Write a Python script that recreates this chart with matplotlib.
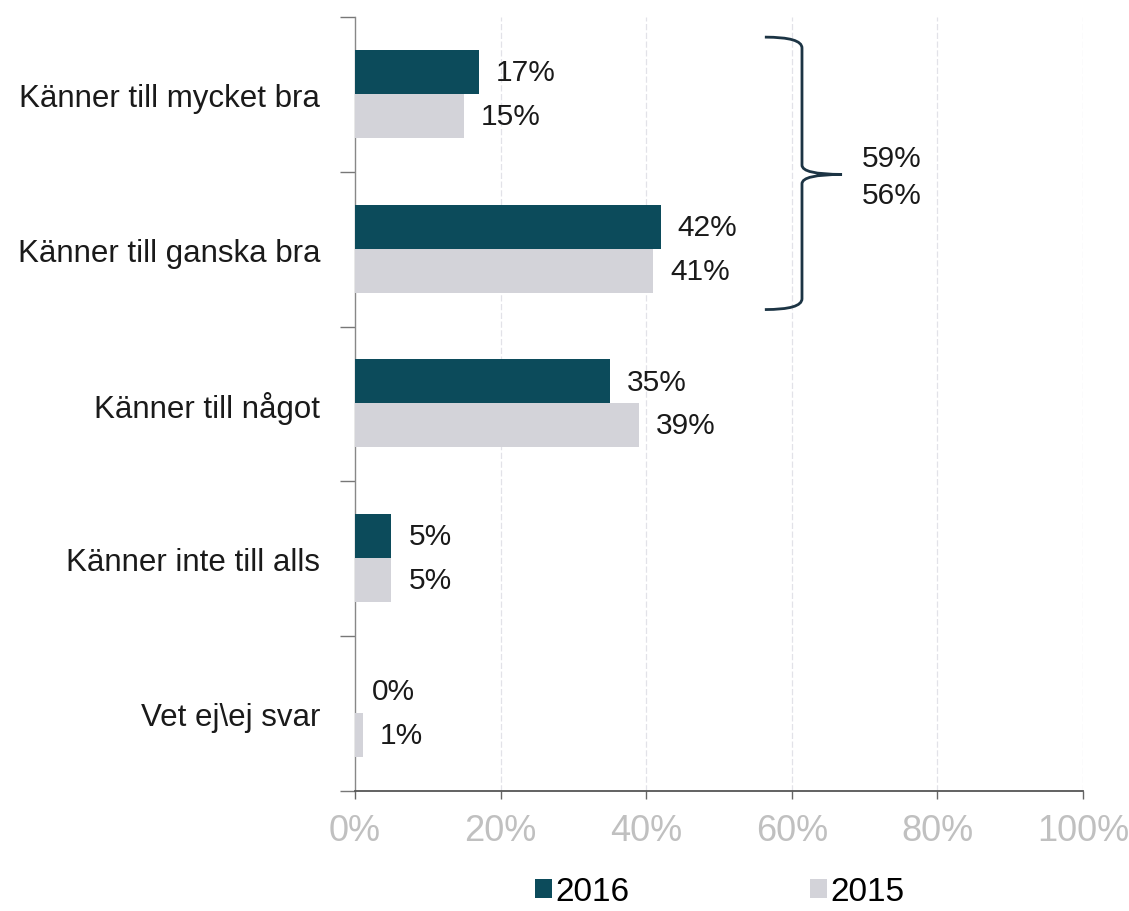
import matplotlib
matplotlib.use("Agg")
import matplotlib.pyplot as plt
from matplotlib.path import Path
from matplotlib.patches import PathPatch, Patch

categories = ["Känner till mycket bra", "Känner till ganska bra", "Känner till något",
              "Känner inte till alls", "Vet ej\\ej svar"]
values_2016 = [17, 42, 35, 5, 0]
values_2015 = [15, 41, 39, 5, 1.1]
labels_2016 = ["17%", "42%", "35%", "5%", "0%"]
labels_2015 = ["15%", "41%", "39%", "5%", "1%"]
series_names = ["2016", "2015"]
bracket_labels = ["59%", "56%"]
xticks = [0, 20, 40, 60, 80, 100]
xtick_labels = ["0%", "20%", "40%", "60%", "80%", "100%"]

C16 = "#0c4b5b"
C15 = "#d3d3d9"

plt.rcParams['font.family'] = ['Liberation Sans', 'DejaVu Sans']

fig = plt.figure(figsize=(11.29, 9.12), dpi=100)
ax = fig.add_axes([355/1129, 1-792/912, (1083-355)/1129, (792-18)/912])

n = len(categories)
ypos = list(range(n))
h = 0.285
y16 = [y - 0.145 for y in ypos]
y15 = [y + 0.138 for y in ypos]
ax.barh(y16, values_2016, height=h, color=C16, zorder=3)
ax.barh(y15, values_2015, height=h, color=C15, zorder=3)

for y, v, t in zip(y16, values_2016, labels_2016):
    ax.annotate(t, (v, y), xytext=(17, 0), textcoords='offset pixels',
                ha='left', va='center', fontsize=21.5, color='#1a1a1a')
for y, v, t in zip(y15, values_2015, labels_2015):
    ax.annotate(t, (v, y), xytext=(17, 0), textcoords='offset pixels',
                ha='left', va='center', fontsize=21.5, color='#1a1a1a')

ax.set_xlim(0, 100)
ax.set_ylim(n - 0.5, -0.5)

ax.set_yticks(ypos)
ax.set_yticklabels(categories, fontsize=22.5, color='#1a1a1a')
ax.tick_params(axis='y', which='major', length=0, pad=25)
ax.set_yticks([i - 0.5 for i in range(n + 1)], minor=True)
ax.tick_params(axis='y', which='minor', length=11, width=1, color='#777777', direction='out')

ax.set_xticks(xticks)
ax.set_xticklabels(xtick_labels, fontsize=26, color='#c0c0c0',
                   family=['Liberation Sans Narrow', 'Liberation Sans', 'DejaVu Sans'])
ax.tick_params(axis='x', length=6, width=1, color='#666666', pad=10, direction='out')

for x in xticks[1:]:
    ax.axvline(x, color='#e2e2e8', lw=0.9, ls=(0, (5, 2)), zorder=1)

for s in ['top', 'right']:
    ax.spines[s].set_visible(False)
ax.spines['left'].set_color('#888888')
ax.spines['left'].set_linewidth(1.0)
ax.spines['bottom'].set_color('#555555')
ax.spines['bottom'].set_linewidth(1.3)

# bracket
xa, xb, xc = 56.3, 61.4, 66.9
yt, ym, yb = -0.37, 0.517, 1.39
verts = [(xa, yt), (xb, yt), (xb, yt + 0.07),
         (xb, ym - 0.06),
         (xb, ym), (xc, ym),
         (xb, ym), (xb, ym + 0.06),
         (xb, yb - 0.07),
         (xb, yb), (xa, yb)]
codes = [Path.MOVETO, Path.CURVE3, Path.CURVE3,
         Path.LINETO,
         Path.CURVE3, Path.CURVE3,
         Path.CURVE3, Path.CURVE3,
         Path.LINETO,
         Path.CURVE3, Path.CURVE3]
ax.add_patch(PathPatch(Path(verts, codes), fill=False, edgecolor='#1c3444',
                       lw=2.0, zorder=4, clip_on=False))
ax.text(69.6, 0.41, bracket_labels[0], fontsize=21.5, ha='left', va='center', color='#1a1a1a')
ax.text(69.6, 0.65, bracket_labels[1], fontsize=21.5, ha='left', va='center', color='#1a1a1a')

handles = [Patch(facecolor=C16), Patch(facecolor=C15)]
fig.legend(handles, series_names, ncol=2, loc='center',
           bbox_to_anchor=(720/1129, 1-893/912), frameon=False,
           fontsize=24, handlelength=0.5, handleheight=0.5,
           handletextpad=0.12, columnspacing=5.4, borderpad=0.2)

fig.savefig("out.png", dpi=100)
